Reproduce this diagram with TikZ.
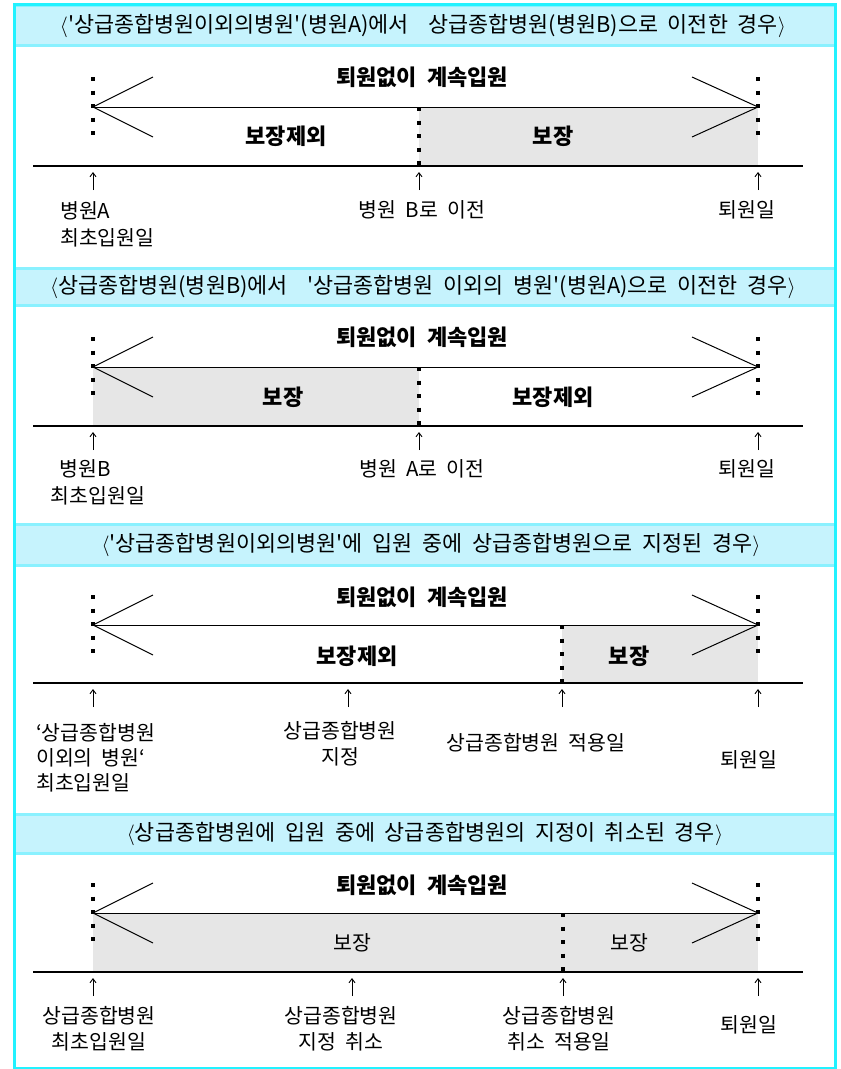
\documentclass[tikz,border=0pt]{standalone}
\usepackage{fontspec}
\usetikzlibrary{arrows.meta}
\newfontfamily\kr{Noto Sans CJK KR}[WordSpace=2.6]
\newfontfamily\krh{Noto Sans CJK KR}[WordSpace=2.0]
\definecolor{framecyan}{HTML}{22F2FF}
\definecolor{hdrfill}{HTML}{C6F3FD}
\definecolor{hdrline}{HTML}{8AF1FF}
\definecolor{covgray}{HTML}{E6E6E6}
\tikzset{
  hdrband/.style={fill=hdrfill},
  hdrrule/.style={draw=hdrline,line width=3pt},
  framebox/.style={draw=framecyan,line width=3pt},
  tline/.style={line width=1.3pt},
  aline/.style={line width=1pt},
  dotline/.style={line width=3.6pt,dash pattern=on 4pt off 9.5pt},
  cover/.style={fill=covgray},
  uparr/.style={line width=0.9pt,-{Straight Barb[length=4pt,width=6pt]}},
  txt/.style={inner sep=0pt,font=\kr\fontsize{20.5}{23}\selectfont},
  btxt/.style={inner sep=0pt,font=\kr\bfseries\fontsize{22}{25}\selectfont},
  htxt/.style={inner sep=0pt,font=\krh\fontsize{21.8}{25}\selectfont},
}
\newcommand\panelbase[3]{%
  \coordinate (#1tl) at (33,#3); \coordinate (#1tr) at (803,#3);
  \coordinate (#1al) at (93,#2); \coordinate (#1ar) at (758,#2);
  \coordinate (#1cl1) at (153,{#2-30}); \coordinate (#1cl2) at (153,{#2+30});
  \coordinate (#1cr1) at (692,{#2-30}); \coordinate (#1cr2) at (692,{#2+30});
  \coordinate (#1dl1) at (93,{#2-30}); \coordinate (#1dl2) at (93,{#2+30});
  \coordinate (#1dr1) at (758,{#2-30}); \coordinate (#1dr2) at (758,{#2+30});
  \draw[tline] (#1tl) -- (#1tr);
  \draw[aline] (#1al) -- (#1ar);
  \draw[aline] (#1cl1) -- (#1al) -- (#1cl2);
  \draw[aline] (#1cr1) -- (#1ar) -- (#1cr2);
  \draw[dotline] (#1dl1) -- (#1dl2);
  \draw[dotline] (#1dr1) -- (#1dr2);
}
\newcommand\midsplit[4]{% name, x, A, T
  \coordinate (#1m1) at (#2,#3); \coordinate (#1m2) at (#2,#4);
  \draw[dotline] (#1m1) -- (#1m2);
}
\newcommand\uparrowat[3]{% name, x, T
  \coordinate (#1b) at (#2,{#3+24}); \coordinate (#1t) at (#2,{#3+6});
  \draw[uparr] (#1b) -- (#1t);
}
\newcommand\header[4]{% name, y1, y2, text y
  \coordinate (#1a) at (14,#2); \coordinate (#1b) at (835,#3);
  \fill[hdrband] (#1a) rectangle (#1b);
  \coordinate (#1c) at (14,{#2+1.5}); \coordinate (#1d) at (835,{#2+1.5});
  \coordinate (#1e) at (14,{#3-1.5}); \coordinate (#1f) at (835,{#3-1.5});
  \draw[hdrrule] (#1c) -- (#1d);
  \draw[hdrrule] (#1e) -- (#1f);
}
\begin{document}
\begin{tikzpicture}[x=1pt,y=-1pt]
\useasboundingbox (0,0) rectangle (841,1069);
\fill[white] (0,0) rectangle (841,1069);

% ---------- headers
\header{h1}{4}{47}{26}
\header{h2}{267}{307}{287}
\header{h3}{523}{567}{545}
\header{h4}{813}{855}{834}
\node[htxt] (h1t) at (423,26) {$\langle$'상급종합병원이외의병원'(병원A)에서 \ 상급종합병원(병원B)으로 이전한 경우$\rangle$};
\node[htxt] (h2t) at (423,287) {$\langle$상급종합병원(병원B)에서 \ '상급종합병원 이외의 병원'(병원A)으로 이전한 경우$\rangle$};
\node[htxt] (h3t) at (431,545) {$\langle$'상급종합병원이외의병원'에 입원 중에 상급종합병원으로 지정된 경우$\rangle$};
\node[htxt] (h4t) at (425,834) {$\langle$상급종합병원에 입원 중에 상급종합병원의 지정이 취소된 경우$\rangle$};

% ---------- panel 1
\fill[cover] (419,107) rectangle (758,166);
\panelbase{p1}{107}{166}
\midsplit{p1}{419}{107}{166}
\uparrowat{p1u1}{93}{166}
\uparrowat{p1u2}{419}{166}
\uparrowat{p1u3}{758}{166}
\node[btxt] (p1top) at (422,77) {퇴원없이 계속입원};
\node[btxt] (p1s1) at (286,136) {보장제외};
\node[btxt] (p1s2) at (553,136) {보장};
\node[txt,anchor=west] (p1l1) at (60,211) {병원A};
\node[txt,anchor=west] (p1l2) at (60,238) {최초입원일};
\node[txt] (p1l3) at (422,210) {병원 B로 이전};
\node[txt] (p1l4) at (747,210) {퇴원일};

% ---------- panel 2
\fill[cover] (93,367) rectangle (419,426);
\panelbase{p2}{367}{426}
\midsplit{p2}{419}{367}{426}
\uparrowat{p2u1}{93}{426}
\uparrowat{p2u2}{419}{426}
\uparrowat{p2u3}{758}{426}
\node[btxt] (p2top) at (422,337) {퇴원없이 계속입원};
\node[btxt] (p2s1) at (283,397) {보장};
\node[btxt] (p2s2) at (553,397) {보장제외};
\node[txt] (p2l1) at (85,469) {병원B};
\node[txt] (p2l2) at (98,496) {최초입원일};
\node[txt] (p2l3) at (422,469) {병원 A로 이전};
\node[txt] (p2l4) at (747,469) {퇴원일};

% ---------- panel 3
\fill[cover] (562,625) rectangle (758,683);
\panelbase{p3}{625}{683}
\midsplit{p3}{562}{625}{683}
\uparrowat{p3u1}{93}{683}
\uparrowat{p3u2}{348}{683}
\uparrowat{p3u3}{562}{683}
\uparrowat{p3u4}{758}{683}
\node[btxt] (p3top) at (422,597) {퇴원없이 계속입원};
\node[btxt] (p3s1) at (357,656) {보장제외};
\node[btxt] (p3s2) at (629,656) {보장};
\node[txt,anchor=west] (p3l1) at (36,733) {‘상급종합병원};
\node[txt,anchor=west] (p3l2) at (36,758) {이외의 병원‘};
\node[txt,anchor=west] (p3l3) at (36,783) {최초입원일};
\node[txt] (p3l4) at (340,731) {상급종합병원};
\node[txt] (p3l5) at (340,757) {지정};
\node[txt] (p3l6) at (536,743) {상급종합병원 적용일};
\node[txt] (p3l7) at (749,760) {퇴원일};

% ---------- panel 4
\fill[cover] (93,913) rectangle (758,972);
\panelbase{p4}{913}{972}
\midsplit{p4}{563}{913}{972}
\uparrowat{p4u1}{93}{972}
\uparrowat{p4u2}{352}{972}
\uparrowat{p4u3}{563}{972}
\uparrowat{p4u4}{758}{972}
\node[btxt] (p4top) at (422,885) {퇴원없이 계속입원};
\node[txt] (p4s1) at (352,943) {보장};
\node[txt] (p4s2) at (629,943) {보장};
\node[txt] (p4l1) at (99,1016) {상급종합병원};
\node[txt] (p4l2) at (99,1042) {최초입원일};
\node[txt] (p4l3) at (341,1016) {상급종합병원};
\node[txt] (p4l4) at (341,1042) {지정 취소};
\node[txt] (p4l5) at (559,1016) {상급종합병원};
\node[txt] (p4l6) at (559,1042) {취소 적용일};
\node[txt] (p4l7) at (749,1025) {퇴원일};

% ---------- outer frame
\draw[framebox] (14,4) rectangle (835,1068);
\end{tikzpicture}
\end{document}
